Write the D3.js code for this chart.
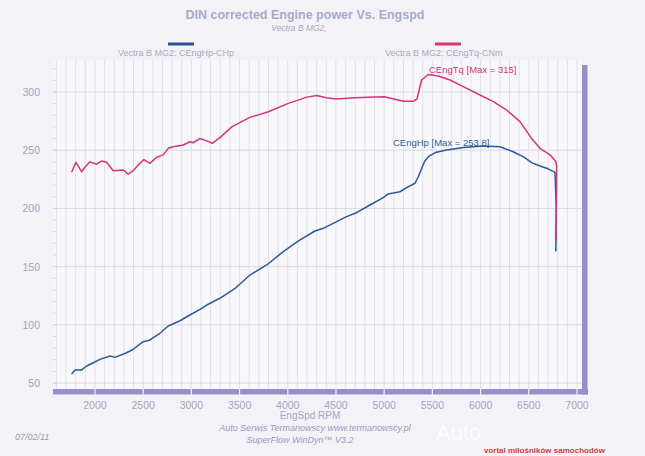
<!DOCTYPE html>
<html><head><meta charset="utf-8">
<script src="https://cdn.jsdelivr.net/npm/d3@7"></script>
<style>html,body{margin:0;padding:0;background:#f3f3f7;}svg{display:block;}</style>
</head><body>
<svg id="c" width="645" height="456"></svg>
<script>
const title = "DIN corrected Engine power Vs. Engspd";
const subtitle = "Vectra B MG2,";
const xTicks = [2000,2500,3000,3500,4000,4500,5000,5500,6000,6500,7000];
const yTicks = [50,100,150,200,250,300];
const seriesNames = ["Vectra B MG2: CEngHp-CHp","Vectra B MG2: CEngTq-CNm"];
const maxLabels = ["CEngHp [Max = 253.8]","CEngTq [Max = 315]"];

const hpRpm = [1758,1793,1862,1914,1983,2052,2156,2207,2329,2397,2501,2570,2674,2760,2882,2985,3089,3160,3300,3450,3608,3781,3953,4127,4282,4369,4507,4610,4714,4852,4990,5042,5163,5233,5320,5354,5389,5420,5458,5530,5648,5821,6028,6201,6339,6450,6530,6616,6700,6772,6785,6780];
const hpVal = [57.7,61.2,61.2,64.6,67.4,70.3,73.2,72,76,79,85.5,87,92.7,99,103.5,108.4,113.3,117,123,131,142.8,151.4,162.8,172.9,180.6,182.9,188.6,192.9,196.3,202.9,209.2,212.4,214.3,217.8,221.6,227.2,234.4,240.5,244.4,248,250.2,252.4,253.6,253,248.7,244,239.3,236.4,234,231,200,163];

const tqRpm = [1758,1803,1862,1896,1948,2017,2069,2121,2190,2294,2345,2397,2449,2508,2570,2640,2708,2760,2812,2916,2985,3020,3089,3160,3220,3300,3420,3600,3800,4000,4200,4300,4400,4500,4700,4900,5000,5100,5200,5300,5340,5389,5458,5562,5683,5821,5994,6133,6271,6409,6530,6616,6720,6782,6789,6786,6783];
const tqVal = [231,239.6,231.5,235.3,240,238,240.7,239.6,232.4,233,229.5,232.4,237.3,242,238.7,244,246,251.6,253,254.5,257.3,256.4,260,258,256,261,270,278,283,290,295.6,297,295,294,295,295.6,296,294,292,292,294,310.3,315,313.7,310.3,304.6,297.4,291.7,284.5,274.5,260,251.6,246,240,235.8,200,172];

const svg = d3.select("#c");
const x = d3.scaleLinear().domain([1565,7083]).range([53,585]);
const y = d3.scaleLinear().domain([50,300]).range([383,92]);
const gridTop = 60, barY = 392;
const font = "Liberation Sans, Arial, sans-serif";

svg.append("rect").attr("x",53).attr("y",gridTop).attr("width",529).attr("height",barY-gridTop)
  .attr("fill","#f8f8fb");

const vg = d3.range(1600,7001,100);
svg.append("g").selectAll("line").data(vg).join("line")
  .attr("x1",d=>x(d)).attr("x2",d=>x(d)).attr("y1",gridTop).attr("y2",barY-3)
  .attr("stroke","#e0e0ec").attr("stroke-width",1);
svg.append("g").selectAll("line").data(yTicks).join("line")
  .attr("x1",53).attr("x2",582).attr("y1",d=>y(d)).attr("y2",d=>y(d))
  .attr("stroke","#d8d8e6").attr("stroke-width",1);
svg.append("g").selectAll("line").data(d3.range(50,330,10)).join("line")
  .attr("x1",53).attr("x2",57).attr("y1",d=>y(d)).attr("y2",d=>y(d))
  .attr("stroke","#d6d6e4");

svg.append("rect").attr("x",53).attr("y",barY-3).attr("width",535).attr("height",5.5).attr("fill","#958fcd");
svg.append("rect").attr("x",582).attr("y",65).attr("width",5.5).attr("height",barY+2.5-65).attr("fill","#958fcd");
svg.append("g").selectAll("line").data(xTicks).join("line")
  .attr("x1",d=>x(d)).attr("x2",d=>x(d)).attr("y1",barY-3).attr("y2",barY+3)
  .attr("stroke","#f3f3f7").attr("stroke-width",1.2);

const lblColor = "#a3a3c3";
svg.append("g").selectAll("text").data(xTicks).join("text")
  .attr("x",d=>x(d)).attr("y",409).attr("text-anchor","middle")
  .attr("font-family",font).attr("font-size",10.5)
  .attr("fill",lblColor).text(d=>d);
svg.append("g").selectAll("text").data(yTicks).join("text")
  .attr("x",40).attr("y",d=>y(d)+4).attr("text-anchor","end")
  .attr("font-family",font).attr("font-size",10.5)
  .attr("fill",lblColor).text(d=>d);
svg.append("text").attr("x",310).attr("y",419).attr("text-anchor","middle")
  .attr("font-family",font).attr("font-size",10)
  .attr("fill",lblColor).text("EngSpd RPM");

svg.append("text").attr("x",305).attr("y",19).attr("text-anchor","middle")
  .attr("font-family",font).attr("font-size",12.5).attr("font-weight","bold")
  .attr("fill","#a7aacb").text(title);
svg.append("text").attr("x",299).attr("y",31).attr("text-anchor","middle")
  .attr("font-family",font).attr("font-size",8.5).attr("font-style","italic")
  .attr("fill","#a8a8c4").text(subtitle);

const colors = ["#2b5a98","#d6327f"];
const legX = [168,435], legTx = [118,385];
seriesNames.forEach((n,i)=>{
  svg.append("line").attr("x1",legX[i]).attr("x2",legX[i]+26).attr("y1",44).attr("y2",44)
    .attr("stroke",i?"#d8337c":"#2a4f98").attr("stroke-width",3);
  svg.append("text").attr("x",legTx[i]).attr("y",56)
    .attr("font-family",font).attr("font-size",9)
    .attr("fill","#a8a8c4").text(n);
});

const line = d3.line().x(d=>x(d[0])).y(d=>y(d[1]));
const tq = tqRpm.map((r,i)=>[r,tqVal[i]]);
const hp = hpRpm.map((r,i)=>[r,hpVal[i]]);
svg.append("path").attr("d",line(hp)).attr("fill","none").attr("stroke",colors[0]).attr("stroke-width",1.5).attr("stroke-linejoin","round");
svg.append("path").attr("d",line(tq)).attr("fill","none").attr("stroke",colors[1]).attr("stroke-width",1.5).attr("stroke-linejoin","round");

svg.append("text").attr("x",393).attr("y",146)
  .attr("font-family",font).attr("font-size",9.5)
  .attr("fill","#2d5c98").text(maxLabels[0]);
svg.append("text").attr("x",429).attr("y",73)
  .attr("font-family",font).attr("font-size",9.5)
  .attr("fill","#cf3582").text(maxLabels[1]);

svg.append("text").attr("x",315).attr("y",431).attr("text-anchor","middle")
  .attr("font-family",font).attr("font-size",9).attr("font-style","italic")
  .attr("fill","#9b9bbd").text("Auto Serwis Termanowscy   www.termanowscy.pl");
svg.append("text").attr("x",300).attr("y",443).attr("text-anchor","middle")
  .attr("font-family",font).attr("font-size",9).attr("font-style","italic")
  .attr("fill","#9b9bbd").text("SuperFlow WinDyn\u2122 V3.2");
svg.append("text").attr("x",15).attr("y",440)
  .attr("font-family",font).attr("font-size",9).attr("font-style","italic")
  .attr("fill","#9b9bbd").text("07/02/11");

svg.append("text").attr("x",436).attr("y",440)
  .attr("font-family",font).attr("font-size",22)
  .attr("fill","#ffffff").attr("opacity",0.8).text("Auto");
svg.append("text").attr("x",484).attr("y",453)
  .attr("font-family",font).attr("font-size",8).attr("font-weight","bold")
  .attr("fill","#d83a3a").text("vortal miłośników samochodów");
</script>
</body></html>
